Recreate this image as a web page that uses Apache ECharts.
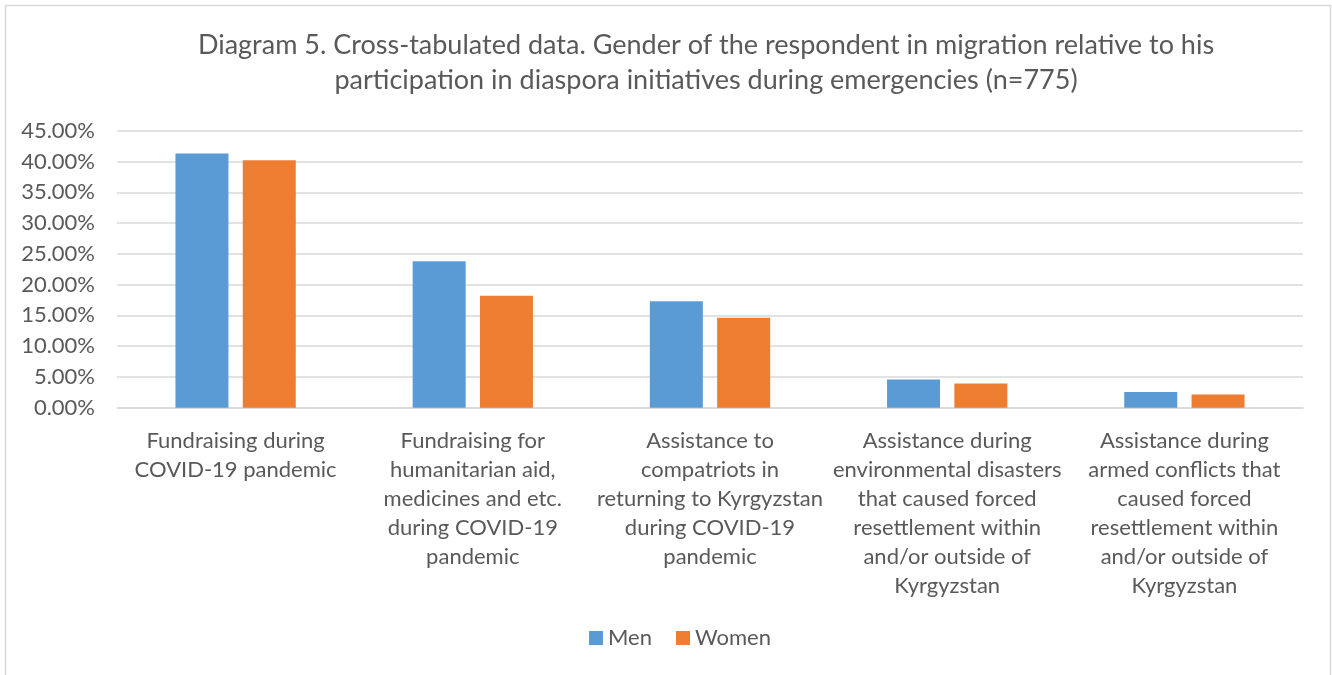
<!DOCTYPE html>
<html>
<head>
<meta charset="utf-8">
<script src="https://cdn.jsdelivr.net/npm/echarts@6/dist/echarts.min.js"></script>
<style>
  html, body { margin: 0; padding: 0; background: #fff; }
  #chart { width: 1332px; height: 675px; }
</style>
</head>
<body>
<div id="chart"></div>
<script>
// categories (line breaks as in the source chart)
var categories = [
	'Fundraising during\nCOVID-19 pandemic',
	'Fundraising for\nhumanitarian aid,\nmedicines and etc.\nduring COVID-19\npandemic',
	'Assistance to\ncompatriots in\nreturning to Kyrgyzstan\nduring COVID-19\npandemic',
	'Assistance during\nenvironmental disasters\nthat caused forced\nresettlement within\nand/or outside of\nKyrgyzstan',
	'Assistance during\narmed conflicts that\ncaused forced\nresettlement within\nand/or outside of\nKyrgyzstan'
];
var men = [41.3, 23.8, 17.3, 4.6, 2.55];
var women = [40.2, 18.2, 14.6, 3.95, 2.15];
var yTicks = { min: 0, max: 45, step: 5 };

var font = 'Lato, "Open Sans", sans-serif';
var textColor = '#595959';

let chart = echarts.init(document.getElementById('chart'));
let option = {
	animation: false,
	backgroundColor: '#fff',
	title: {
		text: 'Diagram 5. Cross-tabulated data. Gender of the respondent in migration relative to his\nparticipation in diaspora initiatives during emergencies (n=775)',
		left: 701,
		top: 23,
		textAlign: 'center',
		textStyle: {
			fontFamily: font,
			fontSize: 27,
			fontWeight: 'normal',
			color: textColor,
			lineHeight: 35
		}
	},
	legend: {
		data: ['Men', 'Women'],
		bottom: 21,
		left: 584,
		icon: 'rect',
		itemWidth: 14,
		itemHeight: 14,
		itemGap: 24,
		itemStyle: { borderWidth: 0 },
		textStyle: { fontFamily: font, fontSize: 22, color: textColor }
	},
	grid: { left: 117, right: 29, top: 130.7, bottom: 267.3 },
	xAxis: {
		type: 'category',
		data: categories,
		axisTick: { show: false },
		axisLine: { lineStyle: { color: '#d9d9d9', width: 1.5 } },
		axisLabel: {
			interval: 0,
			margin: 19,
			fontFamily: font,
			fontSize: 22,
			lineHeight: 29,
			color: textColor,
			verticalAlign: 'top'
		}
	},
	yAxis: {
		type: 'value',
		min: yTicks.min,
		max: yTicks.max,
		interval: yTicks.step,
		axisLine: { show: false },
		axisTick: { show: false },
		splitLine: { lineStyle: { color: '#d9d9d9', width: 1.5 } },
		axisLabel: {
			margin: 22,
			fontFamily: font,
			fontSize: 22,
			color: textColor,
			formatter: function (v) { return v.toFixed(2) + '%'; }
		}
	},
	series: [{
		name: 'Men',
		type: 'bar',
		data: men,
		barWidth: 53,
		barGap: '27%',
		itemStyle: { color: '#5b9bd5' }
	}, {
		name: 'Women',
		type: 'bar',
		data: women,
		barWidth: 53,
		itemStyle: { color: '#ed7d31' }
	}],
	graphic: [{
		type: 'rect',
		shape: { x: 5.5, y: 5.5, width: 1325, height: 700 },
		style: { fill: 'none', stroke: '#d9d9d9', lineWidth: 1.5 },
		silent: true
	}]
};
chart.setOption(option);
</script>
</body>
</html>
